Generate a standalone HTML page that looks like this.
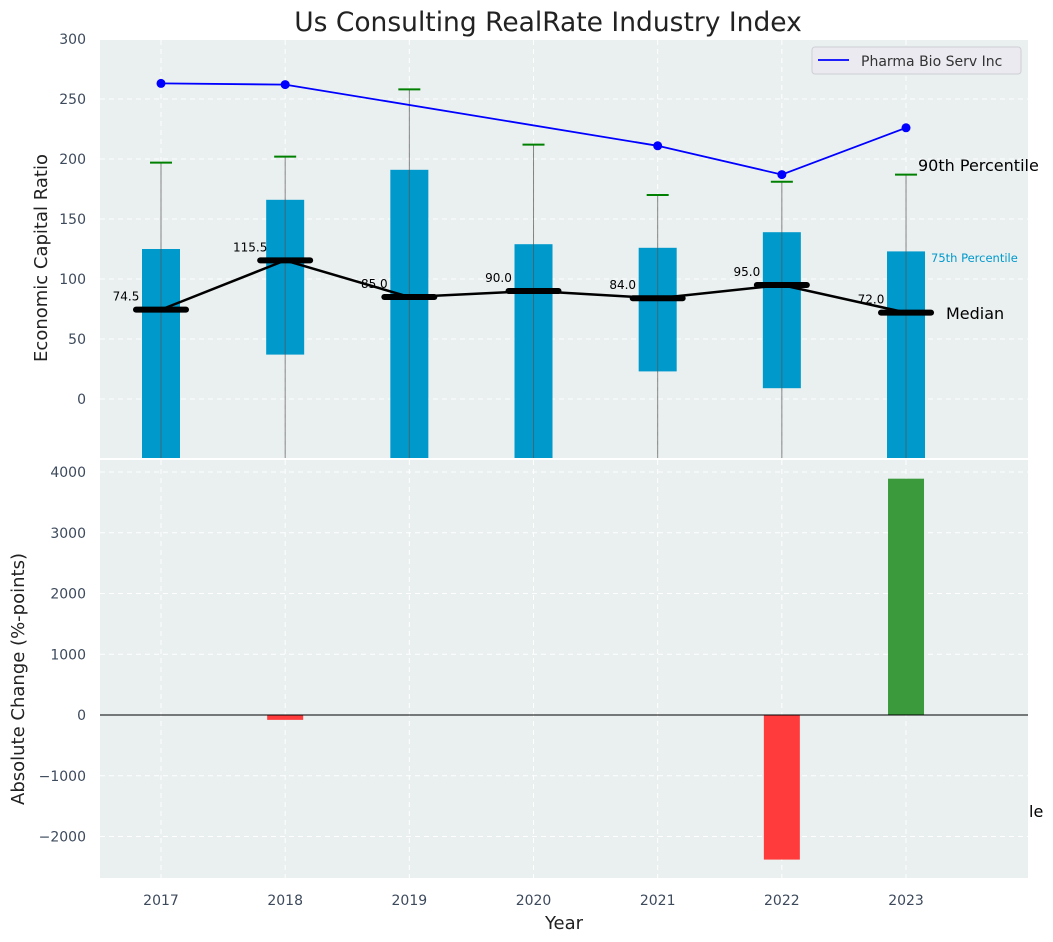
<!DOCTYPE html>
<html><head><meta charset="utf-8"><style>
body{margin:0;background:#fff;}
svg{display:block;font-family:"DejaVu Sans","Liberation Sans",sans-serif;}
.tick{font-size:14px;fill:#3d4a5c;}
</style></head><body>
<svg id="chart" width="1053" height="942">
<text x="548" y="31" text-anchor="middle" font-size="26.5" fill="#222">Us Consulting RealRate Industry Index</text>
<g id="topPanel"></g>
<g id="botPanel"></g>
</svg>
<script>
const years=[2017,2018,2019,2020,2021,2022,2023];
const p75=[125,166,191,129,126,139,123];
const p25=[-100,37,-100,-100,23,9,-100];
const p90=[197,202,258,212,170,181,187];
const medians=[74.5,115.5,85.0,90.0,84.0,95.0,72.0];
const pharma=[263,262,null,null,211,187,226];
const changes=[0,-80,0,0,0,-2380,3890];
const topTicks=[0,50,100,150,200,250,300];
const botTicks=[-2000,-1000,0,1000,2000,3000,4000];

const NS="http://www.w3.org/2000/svg";
function el(p,t,a){const e=document.createElementNS(NS,t);for(const k in a)e.setAttribute(k,a[k]);p.appendChild(e);return e;}
const L=100,R=1028;
const x=v=>161+(v-2017)*124.17;
const yT=v=>399-v*1.2;
const yB=v=>715-v*0.06075;
const topPanel=document.getElementById('topPanel'),botPanel=document.getElementById('botPanel');
const defs=el(document.getElementById('chart'),'defs',{});
const c1=el(defs,'clipPath',{id:'c1'});el(c1,'rect',{x:L,y:40,width:R-L,height:418});
const c2=el(defs,'clipPath',{id:'c2'});el(c2,'rect',{x:L,y:460,width:R-L,height:418});

const bg1=el(topPanel,'rect',{x:L,y:40,width:R-L,height:418,fill:'#eaeff0'});


topTicks.forEach(t=>{
  el(topPanel,'line',{x1:L,x2:R,y1:yT(t),y2:yT(t),stroke:'#fff','stroke-dasharray':'5,4','stroke-width':1});
  const tx=el(topPanel,'text',{x:86,y:yT(t)+5,'text-anchor':'end',class:'tick'});tx.textContent=t;
  
  
});
years.forEach(yr=>el(topPanel,'line',{x1:x(yr),x2:x(yr),y1:40,y2:458,stroke:'#fff','stroke-dasharray':'5,4'}));
const g1=el(topPanel,'g',{'clip-path':'url(#c1)'});
years.forEach((yr,i)=>{
  const b=el(g1,'rect',{x:x(yr)-19,y:yT(p75[i]),width:38,height:yT(p25[i])-yT(p75[i]),fill:'#0099cc'});
  
  
  el(g1,'line',{x1:x(yr),x2:x(yr),y1:460,y2:yT(p90[i]),stroke:'#555','stroke-width':1,opacity:0.7});
  const cap=el(g1,'line',{x1:x(yr)-11,x2:x(yr)+11,y1:yT(p90[i]),y2:yT(p90[i]),stroke:'green','stroke-width':2});
  
  
});
years.forEach((yr,i)=>{
  const t=el(g1,'text',{x:x(yr)-35,y:yT(medians[i])-9,'text-anchor':'middle','font-size':12,fill:'#000'});t.textContent=medians[i].toFixed(1);
  
  
});
const ml=el(g1,'polyline',{points:years.map((yr,i)=>x(yr)+','+yT(medians[i])).join(' '),fill:'none',stroke:'#000','stroke-width':2.5});


years.forEach((yr,i)=>{
  const m=el(g1,'line',{x1:x(yr)-25,x2:x(yr)+25,y1:yT(medians[i]),y2:yT(medians[i]),stroke:'#000','stroke-width':6,'stroke-linecap':'round'});
  
  
});
const pts=years.map((yr,i)=>pharma[i]==null?null:[x(yr),yT(pharma[i])]).filter(p=>p);
const pl=el(g1,'polyline',{points:pts.map(p=>p.join(',')).join(' '),fill:'none',stroke:'#0000ff','stroke-width':1.8});


pts.forEach(p=>{const c=el(g1,'circle',{cx:p[0],cy:p[1],r:4.5,fill:'#0000ff'});
  
  });
const a1=el(topPanel,'text',{x:918,y:171,'font-size':16,fill:'#000'});a1.textContent='90th Percentile';

const a2=el(topPanel,'text',{x:931,y:262,'font-size':11.5,fill:'#0099cc'});a2.textContent='75th Percentile';

const a3=el(topPanel,'text',{x:946,y:319,'font-size':16,fill:'#000'});a3.textContent='Median';

const lg=el(topPanel,'g',{});

el(lg,'rect',{x:812,y:47,width:209,height:27,rx:3,fill:'#eaeaf0',stroke:'#cfcfd4'});
el(lg,'line',{x1:818,x2:849,y1:60,y2:60,stroke:'#0000ff','stroke-width':1.8});
const lt=el(lg,'text',{x:861,y:66,'font-size':14,fill:'#333'});lt.textContent='Pharma Bio Serv Inc';
const yl1=el(topPanel,'text',{x:0,y:0,'font-size':18,fill:'#222','text-anchor':'middle',transform:'translate(47,258) rotate(-90)'});yl1.textContent='Economic Capital Ratio';


const bg2=el(botPanel,'rect',{x:L,y:460,width:R-L,height:418,fill:'#eaeff0'});


botTicks.forEach(t=>{
  el(botPanel,'line',{x1:L,x2:R,y1:yB(t),y2:yB(t),stroke:'#fff','stroke-dasharray':'5,4'});
  const tx=el(botPanel,'text',{x:86,y:yB(t)+5,'text-anchor':'end',class:'tick'});tx.textContent=t<0?'\u2212'+(-t):t;
  
  
});
years.forEach(yr=>{
  el(botPanel,'line',{x1:x(yr),x2:x(yr),y1:460,y2:878,stroke:'#fff','stroke-dasharray':'5,4'});
  const tx=el(botPanel,'text',{x:x(yr),y:905,'text-anchor':'middle',class:'tick'});tx.textContent=yr;
  
  
});
const g2=el(botPanel,'g',{'clip-path':'url(#c2)'});
years.forEach((yr,i)=>{
  const v=changes[i];if(!v)return;
  const b=el(g2,'rect',{x:x(yr)-18,y:Math.min(yB(v),yB(0)),width:36,height:Math.abs(yB(v)-yB(0)),fill:v>0?'#3a9a3c':'#ff3b3b'});
  
  
});
el(botPanel,'line',{x1:L,x2:R,y1:yB(0),y2:yB(0),stroke:'#000','stroke-width':1});
const le=el(botPanel,'text',{x:1029,y:817,'font-size':16,fill:'#000'});le.textContent='le';
const yl2=el(botPanel,'text',{x:0,y:0,'font-size':18,fill:'#222','text-anchor':'middle',transform:'translate(24,679) rotate(-90)'});yl2.textContent='Absolute Change (%-points)';

const xl=el(botPanel,'text',{x:564,y:929,'font-size':18,fill:'#222','text-anchor':'middle'});xl.textContent='Year';

</script>
</body></html>
